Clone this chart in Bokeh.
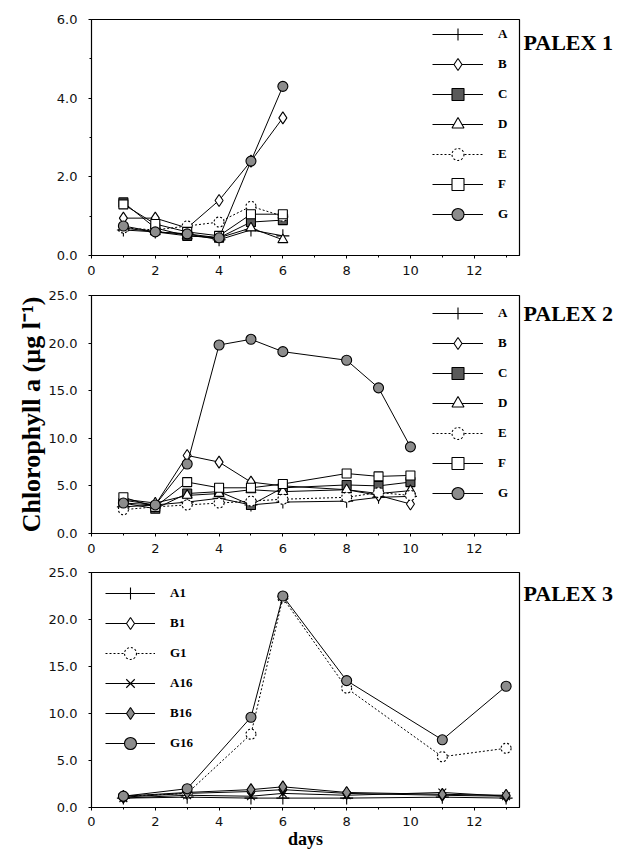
from bokeh.plotting import figure
from bokeh.models import FixedTicker, PrintfTickFormatter, Legend, LegendItem, Range1d
from bokeh.layouts import column, row
from bokeh.core.properties import value
from bokeh.embed import file_html
from bokeh.resources import INLINE

# ---------------- data ----------------
x_ticks = [0, 2, 4, 6, 8, 10, 12]
x_minor = [1, 3, 5, 7, 9, 11, 13]

days1 = [1, 2, 3, 4, 5, 6]
p1_A = [0.65, 0.60, 0.55, 0.40, 0.65, 0.50]
p1_B = [0.95, 0.95, 0.70, 1.40, 2.40, 3.50]
p1_C = [1.35, 0.70, 0.50, 0.45, 0.85, 0.90]
p1_D = [0.70, 0.60, 0.50, 0.45, 0.70, 0.40]
p1_E = [0.70, 0.65, 0.75, 0.85, 1.25, 1.00]
p1_F = [1.30, 0.80, 0.60, 0.50, 1.05, 1.05]
p1_G = [0.75, 0.60, 0.55, 0.45, 2.40, 4.30]

days2 = [1, 2, 3, 4, 5, 6, 8, 9, 10]
p2_A = [2.8, 3.0, 3.3, 3.7, 3.0, 3.3, 3.4, 3.8, 3.9]
p2_B = [3.5, 3.0, 8.2, 7.5, 5.4, 5.0, 4.6, 4.0, 3.1]
p2_C = [3.2, 2.6, 4.2, 4.4, 3.0, 4.8, 5.1, 5.0, 5.4]
p2_D = [3.6, 3.2, 4.0, 4.2, 4.6, 4.4, 4.6, 4.2, 4.5]
p2_E = [2.5, 2.8, 3.0, 3.2, 3.4, 3.6, 3.8, 4.3, 4.0]
p2_F = [3.8, 2.8, 5.4, 4.8, 4.8, 5.2, 6.3, 6.0, 6.1]
p2_G = [3.2, 3.0, 7.3, 19.8, 20.4, 19.1, 18.2, 15.3, 9.1]

days3 = [1, 3, 5, 6, 8, 11, 13]
p3_A1 = [1.0, 1.1, 1.0, 1.0, 1.0, 1.1, 1.0]
p3_B1 = [1.1, 1.5, 1.7, 1.9, 1.5, 1.3, 1.2]
p3_G1 = [1.2, 1.5, 7.8, 22.3, 12.7, 5.4, 6.3]
p3_A16 = [1.0, 1.3, 1.2, 1.5, 1.3, 1.6, 1.2]
p3_B16 = [1.2, 1.6, 1.9, 2.2, 1.6, 1.4, 1.3]
p3_G16 = [1.2, 2.0, 9.6, 22.5, 13.5, 7.2, 12.9]

panel_titles = ["PALEX 1", "PALEX 2", "PALEX 3"]
y_label = "Chlorophyll a (\u00b5g l\u207b\u00b9)"
x_label = "days"

# ---------------- styles ----------------
STY = {
    "A":   dict(marker="cross",    fill="white",   dash="solid", size=13),
    "B":   dict(marker="diamond",  fill="white",   dash="solid", size=12),
    "C":   dict(marker="square",   fill="#5a5a5a", dash="solid", size=9),
    "D":   dict(marker="triangle", fill="white",   dash="solid", size=10),
    "E":   dict(marker="circle",   fill="white",   dash="2 2",   size=10),
    "F":   dict(marker="square",   fill="white",   dash="solid", size=9),
    "G":   dict(marker="circle",   fill="#8c8c8c", dash="solid", size=10),
    "A1":  dict(marker="cross",    fill="white",   dash="solid", size=13),
    "B1":  dict(marker="diamond",  fill="white",   dash="solid", size=12),
    "G1":  dict(marker="circle",   fill="white",   dash="2 2",   size=10),
    "A16": dict(marker="x",        fill="white",   dash="solid", size=11),
    "B16": dict(marker="diamond",  fill="#8c8c8c", dash="solid", size=12),
    "G16": dict(marker="circle",   fill="#8c8c8c", dash="solid", size=10),
}

TICK_FONT = "DejaVu Sans"
SERIF = "Liberation Serif"
LEFT = 91
FRAME_W = 428
RIGHT = 3
MAIN_W = LEFT + FRAME_W + RIGHT
SIDE_W = 626 - MAIN_W
X_END = 13.42


def make_panel(height, top, bottom, y_end, y_ticks, y_minor, x_standoff):
    p = figure(width=MAIN_W, height=height, output_backend="svg", toolbar_location=None,
               x_range=Range1d(0, X_END), y_range=Range1d(0, y_end),
               min_border_left=LEFT, min_border_right=RIGHT,
               min_border_top=top, min_border_bottom=bottom)
    p.grid.visible = False
    p.outline_line_color = "black"
    p.outline_line_width = 1.2
    p.xaxis.ticker = FixedTicker(ticks=x_ticks, minor_ticks=x_minor)
    p.yaxis.ticker = FixedTicker(ticks=y_ticks, minor_ticks=y_minor)
    p.yaxis.formatter = PrintfTickFormatter(format="%.1f")
    for ax in (p.xaxis, p.yaxis):
        ax.axis_line_color = "black"
        ax.major_tick_line_color = "black"
        ax.minor_tick_line_color = "black"
        ax.major_tick_in = 0
        ax.major_tick_out = 3
        ax.minor_tick_in = 0
        ax.minor_tick_out = 2
        ax.major_label_text_font = TICK_FONT
        ax.major_label_text_font_size = "13px"
        ax.major_label_text_color = "#111111"
        ax.axis_label_text_color = "black"
    p.xaxis.major_label_standoff = x_standoff
    p.yaxis.major_label_standoff = 11
    return p


def side_panel(height, top, bottom, y_end, text, y):
    s = figure(width=SIDE_W, height=height, output_backend="svg", toolbar_location=None,
               x_range=Range1d(0, 1), y_range=Range1d(0, y_end),
               min_border_left=0, min_border_right=0,
               min_border_top=top, min_border_bottom=bottom)
    s.axis.visible = False
    s.grid.visible = False
    s.outline_line_color = None
    s.text(x=[0], y=[y], text=[text], x_offset=1, text_font=value(SERIF),
           text_font_style="bold", text_font_size="22px", text_baseline="middle",
           text_align="left", text_color="black")
    return s


def add_series(p, days, vals, key):
    s = STY[key]
    ln = p.line(days, vals, line_color="black", line_width=1, line_dash=s["dash"])
    sc = p.scatter(days, vals, marker=s["marker"], size=s["size"], fill_color=s["fill"],
                   line_color="black", line_width=1.1, line_dash=s["dash"])
    return LegendItem(label=key, renderers=[ln, sc])


def add_legend(p, items, loc, glyph_w):
    lg = Legend(items=items, location=loc, orientation="vertical")
    lg.border_line_color = None
    lg.background_fill_alpha = 0
    lg.padding = 0
    lg.margin = 0
    lg.spacing = 0
    lg.glyph_width = glyph_w
    lg.glyph_height = 30
    lg.label_height = 30
    lg.label_standoff = 15
    lg.label_text_font = SERIF
    lg.label_text_font_style = "bold"
    lg.label_text_font_size = "13px"
    lg.label_text_color = "black"
    lg.label_text_baseline = "middle"
    p.add_layout(lg)


# ---------------- panel 1 ----------------
H1, T1, B1_ = 282, 19, 27
p1 = make_panel(H1, T1, B1_, 6, [0, 2, 4, 6], [1, 3, 5], 7)
items1 = [add_series(p1, days1, v, k) for k, v in
          [("A", p1_A), ("B", p1_B), ("C", p1_C), ("D", p1_D), ("E", p1_E), ("F", p1_F), ("G", p1_G)]]
add_legend(p1, items1, (341, 26), 51)
s1 = side_panel(H1, T1, B1_, 6, panel_titles[0], 6 - 23 / 39.3)

# ---------------- panel 2 ----------------
H2, T2, B2_ = 278, 13, 27
p2 = make_panel(H2, T2, B2_, 25, [0, 5, 10, 15, 20, 25], [], 7)
items2 = [add_series(p2, days2, v, k) for k, v in
          [("A", p2_A), ("B", p2_B), ("C", p2_C), ("D", p2_D), ("E", p2_E), ("F", p2_F), ("G", p2_G)]]
add_legend(p2, items2, (341, 25), 51)
p2.yaxis.axis_label = y_label
p2.yaxis.axis_label_text_font = SERIF
p2.yaxis.axis_label_text_font_style = "bold"
p2.yaxis.axis_label_text_font_size = "26px"
p2.yaxis.axis_label_standoff = 0
s2 = side_panel(H2, T2, B2_, 25, panel_titles[1], 25 - 18 / 9.52)

# ---------------- panel 3 ----------------
H3, T3, B3_ = 294, 12, 47
p3 = make_panel(H3, T3, B3_, 25, [0, 5, 10, 15, 20, 25], [], 6)
items3 = [add_series(p3, days3, v, k) for k, v in
          [("A1", p3_A1), ("B1", p3_B1), ("G1", p3_G1), ("A16", p3_A16), ("B16", p3_B16), ("G16", p3_G16)]]
add_legend(p3, items3, (14, 49), 50)
p3.xaxis.axis_label = x_label
p3.xaxis.axis_label_text_font = SERIF
p3.xaxis.axis_label_text_font_style = "bold"
p3.xaxis.axis_label_text_font_size = "18px"
p3.xaxis.axis_label_standoff = 0
s3 = side_panel(H3, T3, B3_, 25, panel_titles[2], 25 - 21 / 9.4)

layout = column(row(p1, s1), row(p2, s2), row(p3, s3))
open("out.html", "w").write(file_html(layout, INLINE))
